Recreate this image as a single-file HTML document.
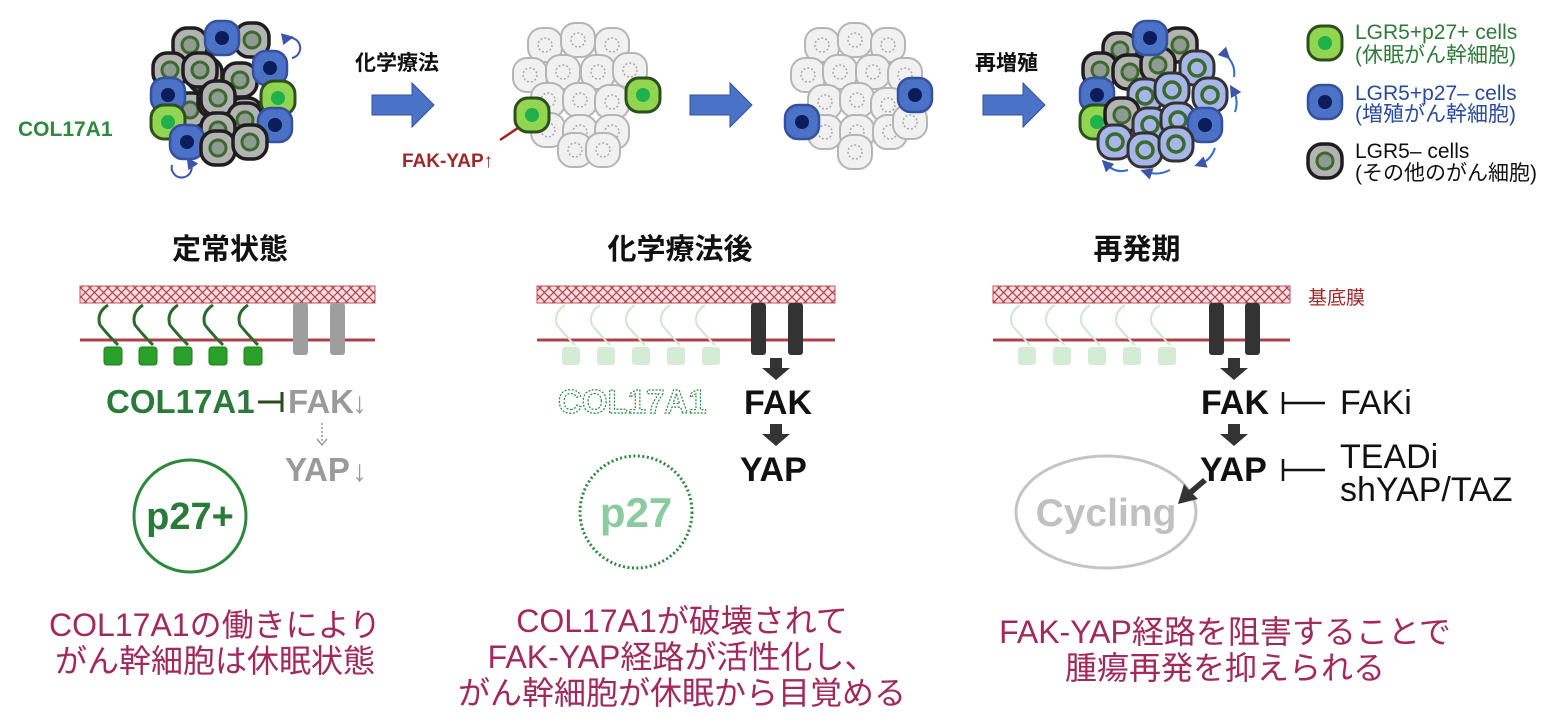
<!DOCTYPE html>
<html><head><meta charset="utf-8"><style>
html,body{margin:0;padding:0;background:#fff;}
svg{display:block;}
text{font-family:"Liberation Sans","Noto Sans CJK JP",sans-serif;}
</style></head><body>
<svg width="1563" height="716" viewBox="0 0 1563 716" xmlns="http://www.w3.org/2000/svg">
<defs>
<g id="cg"><rect x="-17" y="-17" width="34" height="34" rx="14" fill="#b3b3b3" stroke="#1e1e1e" stroke-width="3.5"/><circle r="8" fill="#8e9a92" stroke="#3b6a2c" stroke-width="3"/></g>
<g id="cb"><rect x="-17" y="-17" width="34" height="34" rx="13" fill="#4b72c6" stroke="#34509e" stroke-width="2.5"/><circle r="7" fill="#0b1c5a"/></g>
<g id="cn"><rect x="-17" y="-17" width="34" height="34" rx="13" fill="#92d550" stroke="#2c4f1d" stroke-width="3"/><circle r="7" fill="#20b04c"/></g>
<g id="cl"><rect x="-17" y="-17" width="34" height="34" rx="14" fill="#f1f1f1" stroke="#b5b5b5" stroke-width="2"/><circle r="7" fill="none" stroke="#aaa" stroke-width="1.5" stroke-dasharray="2,2"/></g>
<g id="cv"><rect x="-17" y="-17" width="34" height="34" rx="14" fill="#a7b6e8" stroke="#333" stroke-width="3"/><circle r="8" fill="#a7b6e8" stroke="#3b6a2c" stroke-width="3.5"/></g>
<pattern id="hatch" width="9" height="9" patternUnits="userSpaceOnUse"><rect width="9" height="9" fill="#f6dfe2"/><path d="M0,0 L9,9 M9,0 L0,9" stroke="#b8404c" stroke-width="1.2"/></pattern>
<marker id="ab" markerWidth="6" markerHeight="6" refX="3" refY="3" orient="auto"><path d="M0,0 L6,3 L0,6z" fill="#3c55a8"/></marker>
</defs>

<!-- cluster 1 -->
<g>
<use href="#cg" x="205" y="75"/><use href="#cg" x="240" y="80"/><use href="#cg" x="190" y="110"/><use href="#cg" x="245" y="115"/>
<use href="#cg" x="215" y="100"/><use href="#cg" x="190" y="45"/><use href="#cg" x="252" y="40"/><use href="#cb" x="222" y="38"/>
<use href="#cg" x="170" y="70"/><use href="#cg" x="200" y="70"/><use href="#cb" x="270" y="68"/><use href="#cb" x="168" y="95"/>
<use href="#cg" x="218" y="98"/><use href="#cn" x="278" y="98"/><use href="#cg" x="245" y="120"/><use href="#cn" x="168" y="122"/>
<use href="#cb" x="275" y="125"/><use href="#cg" x="218" y="130"/><use href="#cb" x="187" y="142"/><use href="#cg" x="218" y="148"/><use href="#cg" x="250" y="142"/>
<path d="M288,38 A10,10 0 1 1 292,58" fill="none" stroke="#3c55a8" stroke-width="2" marker-start="url(#ab)"/>
<path d="M172,165 A10,10 0 1 0 190,162" fill="none" stroke="#3c55a8" stroke-width="2" marker-end="url(#ab)"/>
</g>
<text x="18" y="136" font-size="21" font-weight="bold" fill="#2e8a3e">COL17A1</text>

<!-- arrows -->
<text x="355" y="70" font-size="21" font-weight="bold" fill="#111">化学療法</text>
<path d="M372,95 h40 v-12 l22,22 -22,22 v-12 h-40z" fill="#4a72c6" stroke="#34509e"/>
<path d="M690,95 h40 v-12 l22,22 -22,22 v-12 h-40z" fill="#4a72c6" stroke="#34509e"/>
<text x="975" y="70" font-size="21" font-weight="bold" fill="#111">再増殖</text>
<path d="M983,95 h40 v-12 l22,22 -22,22 v-12 h-40z" fill="#4a72c6" stroke="#34509e"/>

<!-- cluster 2 -->
<g>
<use href="#cl" x="545" y="45"/><use href="#cl" x="578" y="40"/><use href="#cl" x="612" y="45"/><use href="#cl" x="530" y="75"/><use href="#cl" x="563" y="72"/>
<use href="#cl" x="598" y="72"/><use href="#cl" x="630" y="70"/><use href="#cl" x="548" y="100"/><use href="#cl" x="580" y="100"/><use href="#cl" x="612" y="102"/>
<use href="#cl" x="548" y="130"/><use href="#cl" x="580" y="132"/><use href="#cl" x="612" y="132"/><use href="#cl" x="575" y="150"/><use href="#cl" x="603" y="150"/>
<use href="#cn" x="532" y="115"/><use href="#cn" x="643" y="95"/>
<line x1="518" y1="128" x2="500" y2="140" stroke="#a02222" stroke-width="2.5"/>
</g>
<text x="402" y="167" font-size="19" font-weight="bold" fill="#a0282a">FAK-YAP↑</text>

<!-- cluster 3 -->
<g>
<use href="#cl" x="822" y="45"/><use href="#cl" x="855" y="40"/><use href="#cl" x="888" y="45"/><use href="#cl" x="808" y="75"/><use href="#cl" x="840" y="72"/>
<use href="#cl" x="873" y="72"/><use href="#cl" x="905" y="75"/><use href="#cl" x="825" y="102"/><use href="#cl" x="857" y="100"/><use href="#cl" x="888" y="105"/>
<use href="#cl" x="825" y="132"/><use href="#cl" x="857" y="132"/><use href="#cl" x="890" y="132"/><use href="#cl" x="855" y="152"/><use href="#cl" x="910" y="122"/>
<use href="#cb" x="802" y="122"/><use href="#cb" x="915" y="95"/>
</g>

<!-- cluster 4 -->
<g>
<use href="#cg" x="1120" y="50"/><use href="#cg" x="1180" y="45"/><use href="#cg" x="1100" y="70"/><use href="#cg" x="1130" y="72"/><use href="#cg" x="1158" y="65"/>
<use href="#cb" x="1150" y="38"/><use href="#cv" x="1197" y="68"/><use href="#cb" x="1097" y="95"/><use href="#cv" x="1145" y="96"/><use href="#cv" x="1172" y="90"/>
<use href="#cv" x="1210" y="95"/><use href="#cn" x="1097" y="122"/><use href="#cg" x="1122" y="115"/><use href="#cv" x="1150" y="125"/><use href="#cv" x="1178" y="120"/>
<use href="#cb" x="1205" y="125"/><use href="#cv" x="1115" y="142"/><use href="#cv" x="1145" y="150"/><use href="#cv" x="1176" y="144"/>
<path d="M1226,55 q10,10 8,22" fill="none" stroke="#2f6fd0" stroke-width="2" marker-start="url(#ab)"/>
<path d="M1235,112 q4,-12 -2,-22" fill="none" stroke="#2f6fd0" stroke-width="2" marker-end="url(#ab)"/>
<path d="M1215,148 q-4,12 -15,16" fill="none" stroke="#2f6fd0" stroke-width="2" marker-end="url(#ab)"/>
<path d="M1170,170 q-12,6 -24,2" fill="none" stroke="#2f6fd0" stroke-width="2" marker-end="url(#ab)"/>
<path d="M1128,170 q-12,4 -22,-6" fill="none" stroke="#2f6fd0" stroke-width="2" marker-end="url(#ab)"/>
</g>

<!-- legend -->
<use href="#cn" x="1325" y="43"/>
<text x="1355" y="39" font-size="21" fill="#2f7a3a">LGR5+p27+ cells</text>
<text x="1355" y="62" font-size="21" fill="#2f7a3a">(休眠がん幹細胞)</text>
<use href="#cb" x="1325" y="102"/>
<text x="1355" y="100" font-size="21" fill="#2a4a9e">LGR5+p27– cells</text>
<text x="1355" y="121" font-size="21" fill="#2a4a9e">(増殖がん幹細胞)</text>
<use href="#cg" x="1325" y="161"/>
<text x="1355" y="158" font-size="21" fill="#111">LGR5– cells</text>
<text x="1355" y="180" font-size="21" fill="#111">(その他のがん細胞)</text>

<!-- titles -->
<text x="230" y="259" font-size="29" font-weight="bold" fill="#111" text-anchor="middle">定常状態</text>
<text x="680" y="259" font-size="29" font-weight="bold" fill="#111" text-anchor="middle">化学療法後</text>
<text x="1137" y="259" font-size="29" font-weight="bold" fill="#111" text-anchor="middle">再発期</text>

<!-- membrane 1 -->
<rect x="80" y="286" width="295" height="17" fill="url(#hatch)" stroke="#c0505a" stroke-width="1"/>
<line x1="80" y1="340" x2="375" y2="340" stroke="#b04048" stroke-width="3"/>
<g fill="none" stroke="#2a6a2a" stroke-width="3">
<path d="M108,305 q-12,8 -8,20 q8,10 18,20"/><path d="M143,305 q-12,8 -8,20 q8,10 18,20"/><path d="M178,305 q-12,8 -8,20 q8,10 18,20"/><path d="M213,305 q-12,8 -8,20 q8,10 18,20"/><path d="M248,305 q-12,8 -8,20 q8,10 18,20"/>
</g>
<g fill="#2aa02a" stroke="#1f7a1f"><rect x="104" y="347" width="18" height="18" rx="3"/><rect x="139" y="347" width="18" height="18" rx="3"/><rect x="174" y="347" width="18" height="18" rx="3"/><rect x="209" y="347" width="18" height="18" rx="3"/><rect x="244" y="347" width="18" height="18" rx="3"/></g>
<rect x="293" y="303" width="15" height="52" rx="3" fill="#9e9e9e"/><rect x="330" y="303" width="15" height="52" rx="3" fill="#9e9e9e"/>
<text x="106" y="413" font-size="33" font-weight="bold" fill="#2a7a3a">COL17A1</text>
<g stroke="#2a4a1a" stroke-width="3"><line x1="258" y1="402" x2="282" y2="402"/><line x1="282" y1="392" x2="282" y2="412"/></g>
<text x="288" y="413" font-size="33" font-weight="bold" fill="#9a9a9a">FAK</text>
<text x="352" y="413" font-size="30" fill="#9a9a9a">↓</text>
<line x1="322" y1="423" x2="322" y2="443" stroke="#9a9a9a" stroke-width="1.5" stroke-dasharray="2,2"/>
<path d="M317,439 l5,6 5,-6" fill="none" stroke="#9a9a9a" stroke-width="1.5"/>
<text x="285" y="481" font-size="33" font-weight="bold" fill="#9a9a9a">YAP</text>
<text x="352" y="481" font-size="30" fill="#9a9a9a">↓</text>
<circle cx="190" cy="516" r="56" fill="#fff" stroke="#2a8a3a" stroke-width="3"/>
<text x="190" y="529" font-size="38" font-weight="bold" fill="#2a7a3a" text-anchor="middle">p27+</text>

<!-- membrane 2 -->
<rect x="537" y="286" width="298" height="17" fill="url(#hatch)" stroke="#c0505a" stroke-width="1"/>
<line x1="537" y1="340" x2="835" y2="340" stroke="#b04048" stroke-width="3"/>
<g fill="none" stroke="#cfe6cf" stroke-width="2">
<path d="M565,305 q-12,8 -8,20 q8,10 18,20"/><path d="M600,305 q-12,8 -8,20 q8,10 18,20"/><path d="M635,305 q-12,8 -8,20 q8,10 18,20"/><path d="M670,305 q-12,8 -8,20 q8,10 18,20"/><path d="M705,305 q-12,8 -8,20 q8,10 18,20"/>
</g>
<g fill="#d4ecd4"><rect x="562" y="347" width="18" height="18" rx="3"/><rect x="597" y="347" width="18" height="18" rx="3"/><rect x="632" y="347" width="18" height="18" rx="3"/><rect x="667" y="347" width="18" height="18" rx="3"/><rect x="702" y="347" width="18" height="18" rx="3"/></g>
<rect x="751" y="303" width="15" height="52" rx="3" fill="#333"/><rect x="788" y="303" width="15" height="52" rx="3" fill="#333"/>
<text x="558" y="413" font-size="33" font-weight="bold" fill="#fff" stroke="#2a8a3a" stroke-width="1.2" stroke-dasharray="2,1.5">COL17A1</text>
<path d="M770,358 v10 h-8 l14,12 14,-12 h-8 v-10z" fill="#333"/>
<text x="744" y="414" font-size="34" font-weight="bold" fill="#111">FAK</text>
<path d="M770,424 v10 h-8 l14,12 14,-12 h-8 v-10z" fill="#333"/>
<text x="740" y="481" font-size="34" font-weight="bold" fill="#111">YAP</text>
<circle cx="636" cy="512" r="56" fill="#fff" stroke="#2a8a3a" stroke-width="3" stroke-dasharray="2,2.5"/>
<text x="636" y="527" font-size="42" font-weight="bold" fill="#8ccaa0" text-anchor="middle">p27</text>

<!-- membrane 3 -->
<rect x="993" y="286" width="297" height="17" fill="url(#hatch)" stroke="#c0505a" stroke-width="1"/>
<line x1="993" y1="340" x2="1290" y2="340" stroke="#b04048" stroke-width="3"/>
<text x="1308" y="304" font-size="19" fill="#a0282a">基底膜</text>
<g fill="none" stroke="#cfe6cf" stroke-width="2">
<path d="M1020,305 q-12,8 -8,20 q8,10 18,20"/><path d="M1055,305 q-12,8 -8,20 q8,10 18,20"/><path d="M1090,305 q-12,8 -8,20 q8,10 18,20"/><path d="M1125,305 q-12,8 -8,20 q8,10 18,20"/><path d="M1160,305 q-12,8 -8,20 q8,10 18,20"/>
</g>
<g fill="#d4ecd4"><rect x="1018" y="347" width="18" height="18" rx="3"/><rect x="1053" y="347" width="18" height="18" rx="3"/><rect x="1088" y="347" width="18" height="18" rx="3"/><rect x="1123" y="347" width="18" height="18" rx="3"/><rect x="1158" y="347" width="18" height="18" rx="3"/></g>
<rect x="1209" y="303" width="15" height="52" rx="3" fill="#333"/><rect x="1245" y="303" width="15" height="52" rx="3" fill="#333"/>
<path d="M1228,358 v10 h-8 l14,12 14,-12 h-8 v-10z" fill="#333"/>
<text x="1201" y="414" font-size="34" font-weight="bold" fill="#111">FAK</text>
<path d="M1228,424 v10 h-8 l14,12 14,-12 h-8 v-10z" fill="#333"/>
<text x="1200" y="481" font-size="34" font-weight="bold" fill="#111">YAP</text>
<g stroke="#111" stroke-width="2.5"><line x1="1283" y1="403" x2="1325" y2="403"/><line x1="1283" y1="392" x2="1283" y2="414"/>
<line x1="1283" y1="470" x2="1325" y2="470"/><line x1="1283" y1="459" x2="1283" y2="481"/></g>
<text x="1340" y="414" font-size="34" fill="#111">FAKi</text>
<text x="1340" y="468" font-size="34" fill="#111">TEADi</text>
<text x="1340" y="501" font-size="34" fill="#111">shYAP/TAZ</text>
<ellipse cx="1106" cy="512" rx="90" ry="56" fill="#fff" stroke="#c4c4c4" stroke-width="3"/>
<text x="1106" y="526" font-size="39" font-weight="bold" fill="#c0c0c0" text-anchor="middle">Cycling</text>
<path d="M1203,478 l-14,12 -5,-6 -6,20 20,-5 -5,-5 14,-12z" fill="#333"/>

<!-- captions -->
<g font-size="32" fill="#a3285c" text-anchor="middle">
<text x="215" y="636">COL17A1の働きにより</text>
<text x="215" y="672">がん幹細胞は休眠状態</text>
<text x="682" y="632">COL17A1が破壊されて</text>
<text x="682" y="668">FAK-YAP経路が活性化し、</text>
<text x="682" y="704">がん幹細胞が休眠から目覚める</text>
<text x="1225" y="643">FAK-YAP経路を阻害することで</text>
<text x="1225" y="679">腫瘍再発を抑えられる</text>
</g>
</svg>
</body></html>
